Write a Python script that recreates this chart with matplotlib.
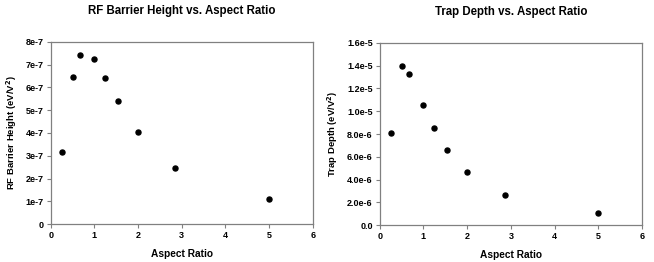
import matplotlib
matplotlib.use('Agg')
import matplotlib.pyplot as plt
from matplotlib.ticker import FixedLocator, FixedFormatter

plt.rcParams['font.family'] = ['Liberation Sans', 'DejaVu Sans']
plt.rcParams['font.weight'] = 'bold'

aspect_ratio = [0.25, 0.5, 0.667, 1.0, 1.25, 1.54, 2.0, 2.857, 5.0]
barrier_height = [3.15e-7, 6.44e-7, 7.40e-7, 7.26e-7, 6.42e-7, 5.39e-7, 4.03e-7, 2.48e-7, 1.09e-7]
trap_depth = [8.06e-6, 13.99e-6, 13.28e-6, 10.54e-6, 8.53e-6, 6.63e-6, 4.64e-6, 2.66e-6, 1.11e-6]

x_ticks = [0, 1, 2, 3, 4, 5, 6]
left_yticks = [0, 1e-7, 2e-7, 3e-7, 4e-7, 5e-7, 6e-7, 7e-7, 8e-7]
left_ylabels = ['0', '1e-7', '2e-7', '3e-7', '4e-7', '5e-7', '6e-7', '7e-7', '8e-7']
right_yticks = [0, 2e-6, 4e-6, 6e-6, 8e-6, 1.0e-5, 1.2e-5, 1.4e-5, 1.6e-5]
right_ylabels = ['0.0', '2.0e-6', '4.0e-6', '6.0e-6', '8.0e-6', '1.0e-5', '1.2e-5', '1.4e-5', '1.6e-5']

W, H = 654, 262
fig = plt.figure(figsize=(W / 100, H / 100), dpi=100)

def make_axes(left, right, top, bottom):
    return fig.add_axes([left / W, 1 - bottom / H, (right - left) / W, (bottom - top) / H])

ax1 = make_axes(50.7, 312.7, 41.7, 224.3)
ax2 = make_axes(379.7, 642, 42.7, 225.3)

panels = [
    (ax1, barrier_height, left_yticks, left_ylabels, 8e-7,
     'RF Barrier Height (eV/V$^2$)', 'RF Barrier Height vs. Aspect Ratio'),
    (ax2, trap_depth, right_yticks, right_ylabels, 1.6e-5,
     'Trap Depth (eV/V$^2$)', 'Trap Depth vs. Aspect Ratio'),
]

for ax, values, yt, yl, ymax, ylabel, title in panels:
    ax.scatter(aspect_ratio, values, s=13, color='black', zorder=3)
    ax.set_xlim(0, 6)
    ax.set_ylim(0, ymax)
    ax.xaxis.set_major_locator(FixedLocator(x_ticks))
    ax.yaxis.set_major_locator(FixedLocator(yt))
    ax.yaxis.set_major_formatter(FixedFormatter(yl))
    ax.tick_params(direction='out', length=3, width=0.8, labelsize=6.5, color='#808080', pad=2)
    for sp in ax.spines.values():
        sp.set_color('#808080')
        sp.set_linewidth(0.9)
    ax.set_xlabel('Aspect Ratio', fontsize=7.3, fontweight='bold', labelpad=6)
    ax.set_ylabel(ylabel, fontsize=6.8, fontweight='bold', labelpad=5)
    ax.set_title(title, fontsize=8.3, fontweight='bold', pad=20)

fig.savefig('out.png', dpi=100)
